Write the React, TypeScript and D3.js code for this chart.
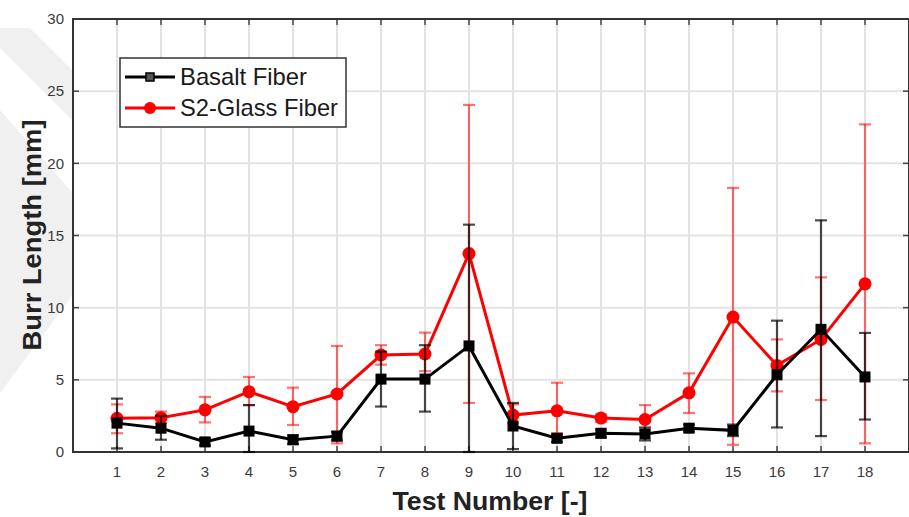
import React from 'react';
import * as d3 from 'd3';

// test numbers on the x axis
const tests = [1, 2, 3, 4, 5, 6, 7, 8, 9, 10, 11, 12, 13, 14, 15, 16, 17, 18];
const yTicks = [0, 5, 10, 15, 20, 25, 30];

// Basalt fiber: mean and error bar ends
const basaltMean = [2.0, 1.65, 0.7, 1.45, 0.85, 1.1, 5.05, 5.05, 7.35, 1.8, 0.95, 1.3, 1.25, 1.65, 1.5, 5.35, 8.5, 5.2];
const basaltLow = [0.25, 0.85, 0.45, 0, 0.55, 0.8, 3.15, 2.8, 0, 0.2, 0.7, 1.0, 0.8, 1.4, 1.1, 1.7, 1.1, 2.25];
const basaltHigh = [3.7, 2.5, 0.95, 3.25, 1.15, 1.4, 6.95, 7.4, 15.75, 3.4, 1.2, 1.55, 1.7, 1.9, 1.9, 9.1, 16.05, 8.25];

// S2-Glass fiber
const glassMean = [2.33, 2.38, 2.92, 4.18, 3.14, 4.02, 6.72, 6.79, 13.75, 2.56, 2.85, 2.35, 2.25, 4.1, 9.35, 6.0, 7.8, 11.65];
const glassLow = [1.3, 2.0, 2.05, 3.25, 1.87, 0.6, 6.05, 5.6, 3.4, 2.0, 1.3, 2.1, 1.5, 2.7, 0.5, 4.2, 3.6, 0.6];
const glassHigh = [3.3, 2.8, 3.82, 5.2, 4.46, 7.35, 7.4, 8.27, 24.05, 3.3, 4.8, 2.6, 3.25, 5.45, 18.3, 7.8, 12.1, 22.7];

const seriesNames = ['Basalt Fiber', 'S2-Glass Fiber'];

const font = '"Liberation Sans", Arial, sans-serif';

const App = () => {
  const width = 909;
  const height = 517;
  const left = 73;
  const top = 19;
  const bottom = 452;
  const right = 909;

  const x = d3.scaleLinear().domain([0, 19]).range([left, right]);
  const y = d3.scaleLinear().domain([0, 30]).range([bottom, top]);

  const line = d3.line<number>()
    .x((d, i) => x(tests[i]))
    .y((d) => y(d));

  const capW = 6;

  const errorBars = (lo: number[], hi: number[], color: string, opacity: number) => (
    <g stroke={color} strokeOpacity={opacity} strokeWidth={2.2} fill="none">
      {tests.map((t, i) => (
        <g key={t}>
          <line x1={x(t)} x2={x(t)} y1={y(lo[i])} y2={y(hi[i])} />
          <line x1={x(t) - capW} x2={x(t) + capW} y1={y(lo[i])} y2={y(lo[i])} />
          <line x1={x(t) - capW} x2={x(t) + capW} y1={y(hi[i])} y2={y(hi[i])} />
        </g>
      ))}
    </g>
  );

  return (
    <svg width={width} height={height} style={{ position: 'absolute', left: 0, top: 0, background: '#fff' }}>
      {/* faint watermark bands behind the plot */}
      <polygon points="-20,28 30,28 160,158 110,158" fill="#f0f0f0" />
      <polygon points="0,110 100,224 100,258 0,393" fill="#f0f0f0" />

      {/* plot area */}
      <rect x={left} y={top} width={right - left} height={bottom - top} fill="#fff" />

      {/* grid */}
      <g stroke="#e3e3e3" strokeWidth={2}>
        {yTicks.slice(1, -1).map((v) => (
          <line key={v} x1={left} x2={right} y1={y(v)} y2={y(v)} />
        ))}
        {tests.map((t) => (
          <line key={t} x1={x(t)} x2={x(t)} y1={top} y2={bottom} />
        ))}
      </g>

      {/* tick marks */}
      <g stroke="#444" strokeWidth={1.5}>
        {yTicks.map((v) => (
          <g key={v}>
            <line x1={left} x2={left + 6} y1={y(v)} y2={y(v)} />
            <line x1={right - 6} x2={right} y1={y(v)} y2={y(v)} />
          </g>
        ))}
        {tests.map((t) => (
          <g key={t}>
            <line x1={x(t)} x2={x(t)} y1={top} y2={top + 6} />
            <line x1={x(t)} x2={x(t)} y1={bottom} y2={bottom - 6} />
          </g>
        ))}
      </g>

      {/* frame */}
      <rect x={left} y={top} width={right - left} height={bottom - top} fill="none" stroke="#333" strokeWidth={2} />

      {/* tick labels */}
      <g fontFamily={font} fontSize={15} fill="#3a3a3a">
        {yTicks.map((v) => (
          <text key={v} x={left - 9} y={y(v)} dy="0.35em" textAnchor="end">{v}</text>
        ))}
        {tests.map((t) => (
          <text key={t} x={x(t)} y={477} textAnchor="middle">{t}</text>
        ))}
      </g>

      {/* axis titles */}
      <text x={490} y={510} textAnchor="middle" fontFamily={font} fontWeight="bold" fontSize={26} fill="#222" textLength={195} lengthAdjust="spacingAndGlyphs">Test Number [-]</text>
      <text transform={`translate(41, 235) rotate(-90)`} textAnchor="middle" fontFamily={font} fontWeight="bold" fontSize={26} fill="#222" textLength={231} lengthAdjust="spacingAndGlyphs">Burr Length [mm]</text>

      {/* S2-Glass series */}
      {errorBars(glassLow, glassHigh, '#ff0000', 0.55)}
      <path d={line(glassMean) || ''} fill="none" stroke="#ff0000" strokeWidth={3} />
      {tests.map((t, i) => (
        <circle key={t} cx={x(t)} cy={y(glassMean[i])} r={6.5} fill="#ff0000" />
      ))}

      {/* Basalt series */}
      {errorBars(basaltLow, basaltHigh, '#000', 0.7)}
      <path d={line(basaltMean) || ''} fill="none" stroke="#000" strokeWidth={3} />
      {tests.map((t, i) => (
        <rect key={t} x={x(t) - 5.5} y={y(basaltMean[i]) - 5.5} width={11} height={11} fill="#000" />
      ))}

      {/* legend */}
      <g>
        <rect x={120} y={58} width={226} height={69} fill="#fff" stroke="#333" strokeWidth={1.5} />
        <line x1={125} x2={175} y1={77} y2={77} stroke="#000" strokeWidth={3} />
        <rect x={146} y={73} width={8} height={8} fill="#555" stroke="#000" strokeWidth={1.5} />
        <line x1={125} x2={175} y1={108} y2={108} stroke="#ff0000" strokeWidth={3} />
        <circle cx={150} cy={108} r={6} fill="#ff0000" />
        <text x={180} y={85} fontFamily={font} fontSize={24} fill="#1a1a1a" textLength={127} lengthAdjust="spacingAndGlyphs">{seriesNames[0]}</text>
        <text x={180} y={116} fontFamily={font} fontSize={24} fill="#1a1a1a" textLength={158} lengthAdjust="spacingAndGlyphs">{seriesNames[1]}</text>
      </g>
    </svg>
  );
};

export default App;
